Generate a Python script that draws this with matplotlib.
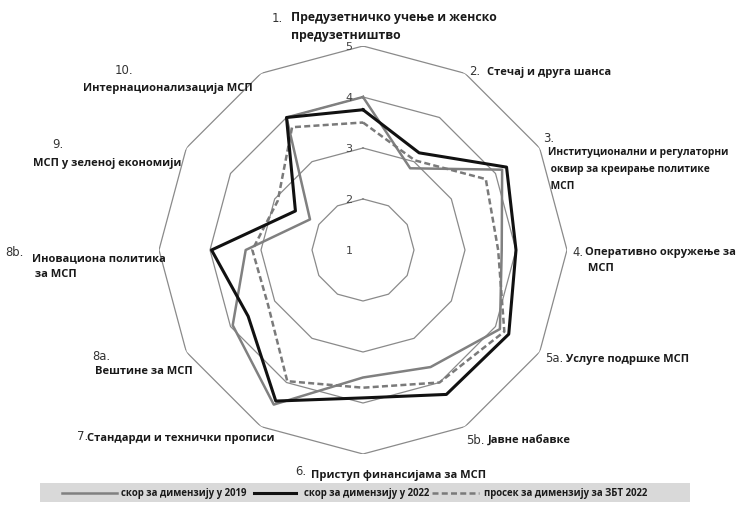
import numpy as np
import matplotlib
matplotlib.use('Agg')
import matplotlib.pyplot as plt
from matplotlib.lines import Line2D
from matplotlib.patches import Rectangle

# ---------------- data ----------------
categories = ['1', '2', '3', '4', '5a', '5b', '6', '7', '8a', '8b', '9', '10']
score_2019 = [4.0, 2.85, 4.15, 3.72, 4.1, 3.65, 3.5, 4.5, 3.95, 3.3, 2.2, 4.0]
score_2022 = [3.75, 3.2, 4.25, 4.0, 4.3, 4.27, 3.9, 4.42, 3.6, 3.97, 2.53, 4.0]
avg_zbt_2022 = [3.5, 3.03, 3.78, 3.65, 4.2, 4.0, 3.7, 3.97, 3.15, 3.17, 2.93, 3.78]
grid_levels = [1, 2, 3, 4, 5]
axis_numbers = ['1.', '2.', '3.', '4.', '5a.', '5b.', '6.', '7.', '8a.', '8b.', '9.', '10.']
axis_names = [
    'Предузетничко учење и женско\nпредузетништво',
    'Стечај и друга шанса',
    'Институционални и регулаторни\n оквир за креирање политике\n МСП',
    'Оперативно окружење за\n МСП',
    'Услуге подршке МСП',
    'Јавне набавке',
    'Приступ финансијама за МСП',
    'Стандарди и технички прописи',
    'Вештине за МСП',
    'Иновациона политика\n за МСП',
    'МСП у зеленој економији',
    'Интернационализација МСП',
]
legend_labels = ['скор за димензију у 2019', 'скор за димензију у 2022',
                 'просек за димензију за ЗБТ 2022']

# ---------------- layout ----------------
W, H = 736, 506
fig = plt.figure(figsize=(W / 100, H / 100), dpi=100)
fig.patch.set_facecolor('white')
cx, cy, R = 363, 251, 204
ax = fig.add_axes([(cx - R) / W, (H - cy - R) / H, 2 * R / W, 2 * R / H],
                  projection='polar')
ax.set_theta_zero_location('N')
ax.set_theta_direction(-1)
ax.set_ylim(1, 5)
ax.axis('off')

n = len(categories)
theta = np.arange(n) * 2 * np.pi / n
theta_c = np.append(theta, theta[0])

def closed(v):
    return list(v) + [v[0]]

DASH = (0, (2.4, 1.3))
GRID = '#8a8a8a'
for lvl in grid_levels[1:]:
    ax.plot(theta_c, [lvl] * (n + 1), color=GRID, lw=0.9, zorder=1)
for lvl in grid_levels:
    ax.annotate(str(lvl), xy=(0, lvl), xytext=(-14, 0), textcoords='offset pixels',
                ha='center', va='center', fontsize=8, color='#444444',
                family=['Liberation Sans Narrow', 'DejaVu Sans'], zorder=5)

ax.plot(theta_c, closed(score_2019), color='#808080', lw=1.8, zorder=3)
ax.plot(theta_c, closed(avg_zbt_2022), color='#7a7a7a', lw=1.8,
        linestyle=DASH, zorder=3)
ax.plot(theta_c, closed(score_2022), color='#111111', lw=2.2, zorder=4)

# ---------------- category labels ----------------
def ftext(x, y, s, **kw):
    fig.text(x / W, 1 - y / H, s, **kw)

LBL = dict(fontweight='bold', color='#1a1a1a',
           family=['Open Sans', 'DejaVu Sans'], va='top')
NUM = dict(fontsize=8.4, color='#333333',
           family=['Liberation Sans Narrow', 'DejaVu Sans'], va='top')

num_pos = [(272, 12), (469, 65), (543, 132), (572, 246), (545, 352), (466, 434),
           (295, 465), (77, 430), (92, 350), (5, 246), (52, 138), (115, 64)]
name_pos = [(291, 11), (487, 67), (548, 147), (585, 247), (566, 354), (488, 436),
            (311, 470), (87, 433), (95, 366), (32, 253), (33, 158), (83, 83)]
sizes = [8.8, 8.0, 7.4, 8.0, 8.0, 8.0, 8.0, 8.0, 8.0, 8.0, 8.0, 8.0]
spacings = [1.45, 1.65, 1.75, 1.65, 1.65, 1.65, 1.65, 1.65, 1.65, 1.65, 1.65, 1.65]
for (nx, ny), (tx, ty), num, name, fs, ls in zip(num_pos, name_pos, axis_numbers,
                                                  axis_names, sizes, spacings):
    ftext(nx, ny, num, **NUM)
    ftext(tx, ty, name, fontsize=fs, linespacing=ls, **LBL)

# ---------------- legend strip ----------------
fig.add_artist(Rectangle((40 / W, 1 - 503 / H), 650 / W, 19 / H,
                         transform=fig.transFigure, facecolor='#d9d9d9',
                         edgecolor='none', zorder=0))
ly = 1 - 493.5 / H
fig.add_artist(Line2D([62 / W, 117 / W], [ly, ly], transform=fig.transFigure,
                      color='#808080', lw=1.8))
fig.add_artist(Line2D([254 / W, 296 / W], [ly, ly], transform=fig.transFigure,
                      color='#111111', lw=2.2))
fig.add_artist(Line2D([432 / W, 479 / W], [ly, ly], transform=fig.transFigure,
                      color='#7a7a7a', lw=1.8, linestyle=DASH))
LEG = dict(fontsize=6.9, fontweight='bold', color='#1a1a1a',
           family=['Open Sans', 'DejaVu Sans'], va='center')
for x, s in zip([121, 304, 484], legend_labels):
    fig.text(x / W, ly, s, **LEG)

fig.savefig('out.png', dpi=100, facecolor='white')
